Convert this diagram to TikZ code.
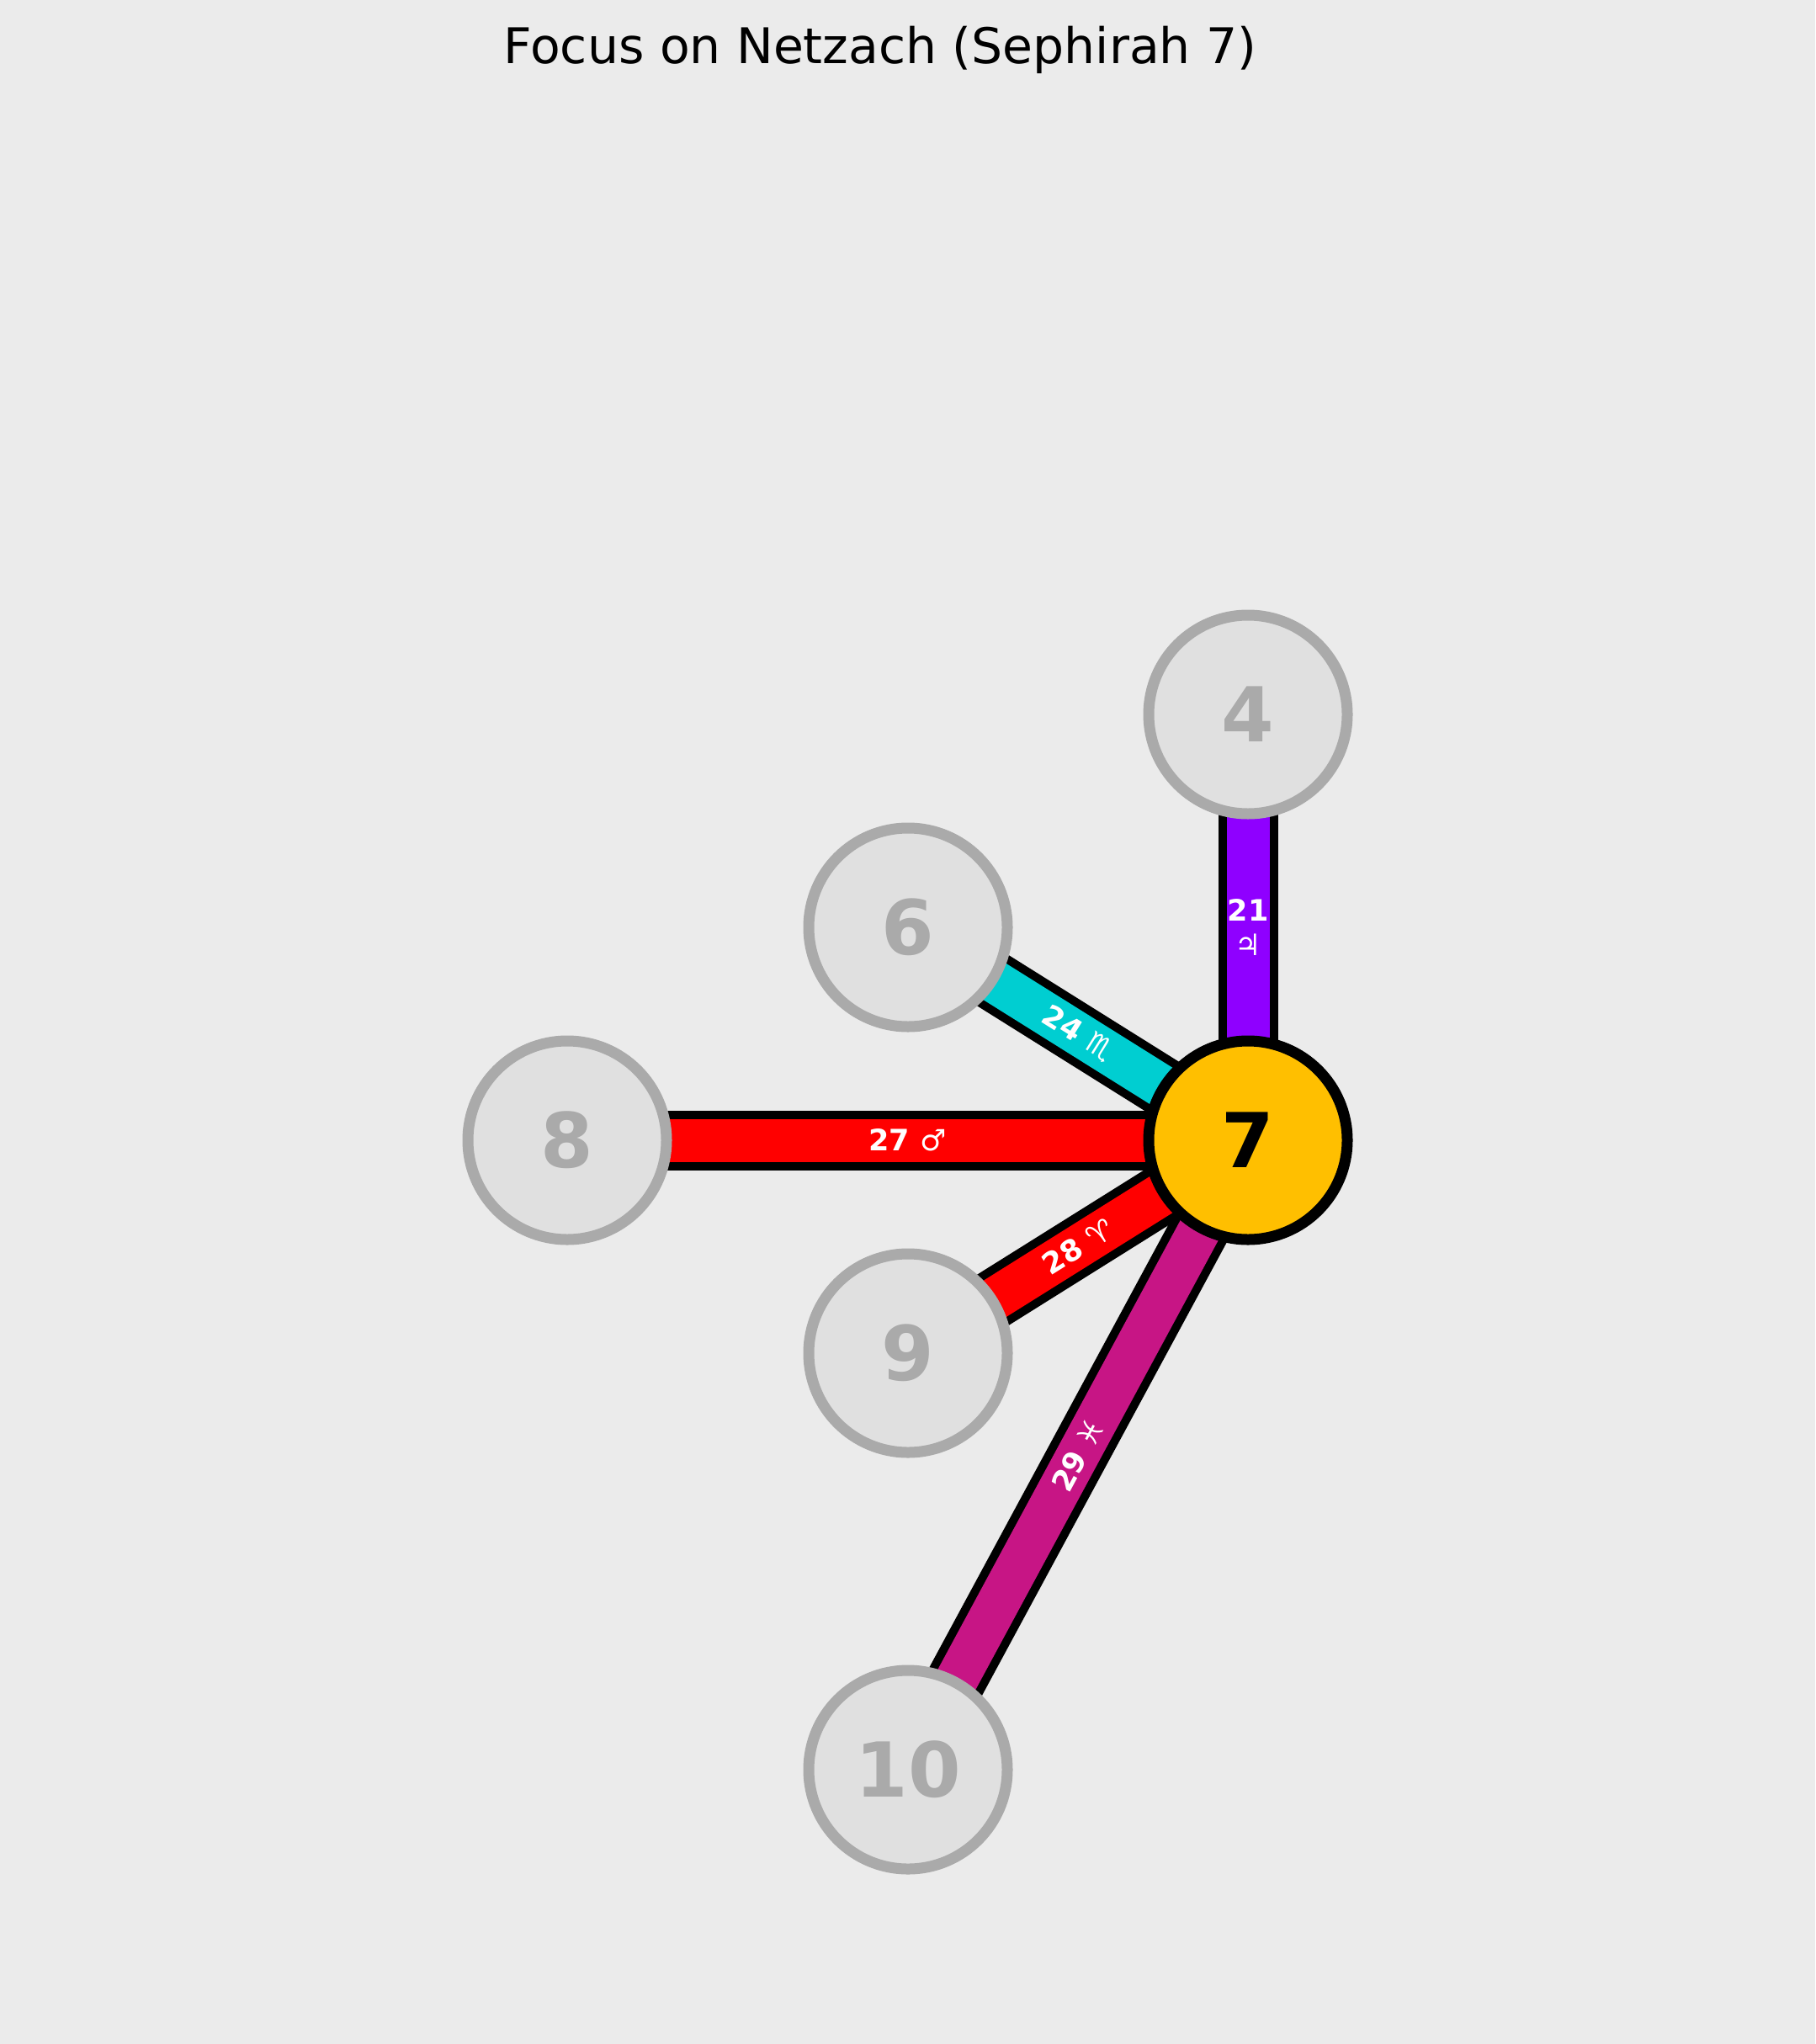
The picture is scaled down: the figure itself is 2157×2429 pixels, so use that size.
\documentclass[tikz,border=0pt]{standalone}
\usepackage{fontspec}
\setmainfont{DejaVu Sans}
\usepackage{xcolor}
\usetikzlibrary{backgrounds}

\definecolor{pagebg}{HTML}{EBEBEB}
\definecolor{nodefill}{HTML}{E0E0E0}
\definecolor{nodeedge}{HTML}{AAAAAA}
\definecolor{amber}{HTML}{FFBF00}
\definecolor{jupviolet}{HTML}{8F00FF}
\definecolor{scorpturq}{HTML}{00CED1}
\definecolor{marsred}{HTML}{FF0000}
\definecolor{pisces}{HTML}{C71585}

\begin{document}
\begin{tikzpicture}[
        x=0.5pt, y=-0.5pt,
        sephira/.style={circle, draw=nodeedge, fill=nodefill, line width=6.5pt,
            minimum size=118pt, inner sep=0pt, text=nodeedge,
            font=\fontsize{45}{54}\selectfont\bfseries},
        focus/.style  ={sephira, draw=black, fill=amber, text=black},
        pathrim/.style={draw=black, line width=35.5pt},
        pathcore/.style={line width=25.5pt},
        pathlbl/.style={text=white, inner sep=0pt, align=center,
            font=\fontsize{17.5}{20.5}\selectfont\bfseries}
    ]
        \useasboundingbox (0,0) rectangle (2157,2429);
        % title
        \node[font=\fontsize{29.2}{35}\selectfont, anchor=base] (title)
              at (1046,76) {Focus on Netzach (Sephirah 7)};
        % neighbouring sephiroth, then the focus
        \foreach \n/\px/\py in {4/1483/849, 6/1079/1102, 8/674/1355,
                                9/1079/1608, 10/1079/2103}{
            \node[sephira] (n\n) at (\px,\py) {\n};
        }
        \node[focus] (n7) at (1483,1355) {7};
        % paths: black rim + coloured core, behind the circles
        \begin{scope}[on background layer]
            \fill[pagebg] (0,0) rectangle (2157,2429);
            \foreach \a/\col in {n4/jupviolet, n6/scorpturq, n8/marsred,
                                 n9/marsred, n10/pisces}{
                \draw[pathrim] (\a.center) -- (n7.center);
                \draw[pathcore, \col] (\a.center) -- (n7.center);
            }
        \end{scope}
        % path labels
        \path (n4.center) -- node[pathlbl] (l21) {21\\{\mdseries ♃}} (n7.center);
        \path (n6.center) -- node[pathlbl, sloped] (l24) {24 {\mdseries ♏}} (n7.center);
        \path (n8.center) -- node[pathlbl] (l27) {27 {\mdseries ♂}} (n7.center);
        \path (n9.center) -- node[pathlbl, sloped] (l28) {28 {\mdseries ♈}} (n7.center);
        \path (n10.center) -- node[pathlbl, sloped] (l29) {29 {\mdseries ♓}} (n7.center);
    \end{tikzpicture}
\end{document}
